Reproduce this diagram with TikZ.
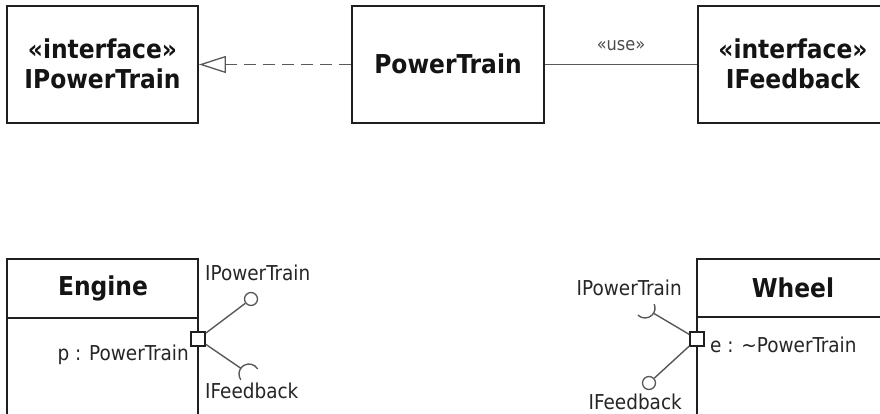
\documentclass[tikz,border=0pt]{standalone}
\usepackage{fontspec}
\setmainfont{DejaVu Sans Condensed}
\usetikzlibrary{arrows.meta,calc}
\begin{document}
\begin{tikzpicture}[x=1pt,y=1pt,
  umlbox/.style={draw=black!88, line width=1.8pt, inner sep=0pt, minimum width=191pt},
  divider/.style={draw=black!88, line width=1.6pt},
  portbox/.style={draw=black!88, fill=white, line width=1.5pt, minimum size=14pt, inner sep=0pt},
  lolli/.style={circle, draw=black!65, line width=1.3pt, minimum size=13pt, inner sep=0pt},
  conn/.style={draw=black!65, line width=1.4pt},
  hdr/.style={font=\bfseries\fontsize{26}{31}\selectfont, inner sep=0pt, text=black!92},
  lbl/.style={font=\fontsize{20.5}{24}\selectfont, inner sep=0pt, text=black!85},
  stereo/.style={font=\fontsize{18}{22}\selectfont, inner sep=0pt, text=black!70}]
\useasboundingbox (0,0) rectangle (880,-414);
\clip (0,0) rectangle (880,-414);
\fill[white] (0,0) rectangle (880,-414);

% top row
\node[umlbox, minimum height=117pt] (ipt) at (102.5,-64.5) {};
\node[hdr] (iptst) at (102.5,-49) {«interface»};
\node[hdr] (iptnm) at (102.5,-79) {IPowerTrain};

\node[umlbox, minimum width=192pt, minimum height=117pt] (pt) at (448,-64.5) {};
\node[hdr] (ptnm) at (448,-64) {PowerTrain};

\node[umlbox, minimum width=190pt, minimum height=117pt] (ifb) at (793,-64.5) {};
\node[hdr] (ifbst) at (793,-49) {«interface»};
\node[hdr] (ifbnm) at (793,-79) {IFeedback};

\draw[conn, dash pattern=on 12pt off 7pt, -{Triangle[open, length=27pt, width=17pt, line width=1.3pt]}] (pt.west) -- (ipt.east);
\draw[conn] (pt.east) -- node[stereo, pos=0.5, yshift=19pt] (use) {«use»} (ifb.west);

% bottom left: Engine
\node[umlbox, minimum height=181pt] (eng) at (102.5,-349.5) {};
\draw[divider] ([yshift=-60pt]eng.north west) -- ([yshift=-60pt]eng.north east);
\node[hdr] (engnm) at (103,-288) {Engine};
\node[lbl, anchor=east] (engp) at (189,-355) {p : PowerTrain};
\node[portbox] (p1) at (198,-339) {};
\node[lolli] (l1) at (251,-299) {};
\coordinate (s1c) at (249,-374);
\coordinate (s1) at ($(s1c)+(145:10)$);
\draw[conn] (p1) -- (l1);
\draw[conn] (p1) -- (s1);
\draw[conn] ($(s1c)+(30:10)$) arc[start angle=30, end angle=215, radius=10pt];
\node[lbl, anchor=west] (e_ipt) at (205,-273) {IPowerTrain};
\node[lbl, anchor=west] (e_ifb) at (205,-391) {IFeedback};

% bottom right: Wheel
\node[umlbox, minimum height=181pt] (whl) at (792.5,-349.5) {};
\draw[divider] ([yshift=-59pt]whl.north west) -- ([yshift=-59pt]whl.north east);
\node[hdr] (whlnm) at (793,-288) {Wheel};
\node[lbl, anchor=west] (whle) at (710,-345) {e : \char"007E PowerTrain};
\node[portbox] (p2) at (697,-339) {};
\node[lolli] (l2) at (649,-383) {};
\coordinate (s2c) at (645,-308);
\coordinate (s2) at ($(s2c)+(328.5:10)$);
\draw[conn] (p2) -- (l2);
\draw[conn] (p2) -- (s2);
\draw[conn] ($(s2c)+(225:10)$) arc[start angle=225, end angle=383, radius=10pt];
\node[lbl, anchor=east] (w_ipt) at (682,-288) {IPowerTrain};
\node[lbl, anchor=east] (w_ifb) at (682,-402) {IFeedback};
\end{tikzpicture}
\end{document}
